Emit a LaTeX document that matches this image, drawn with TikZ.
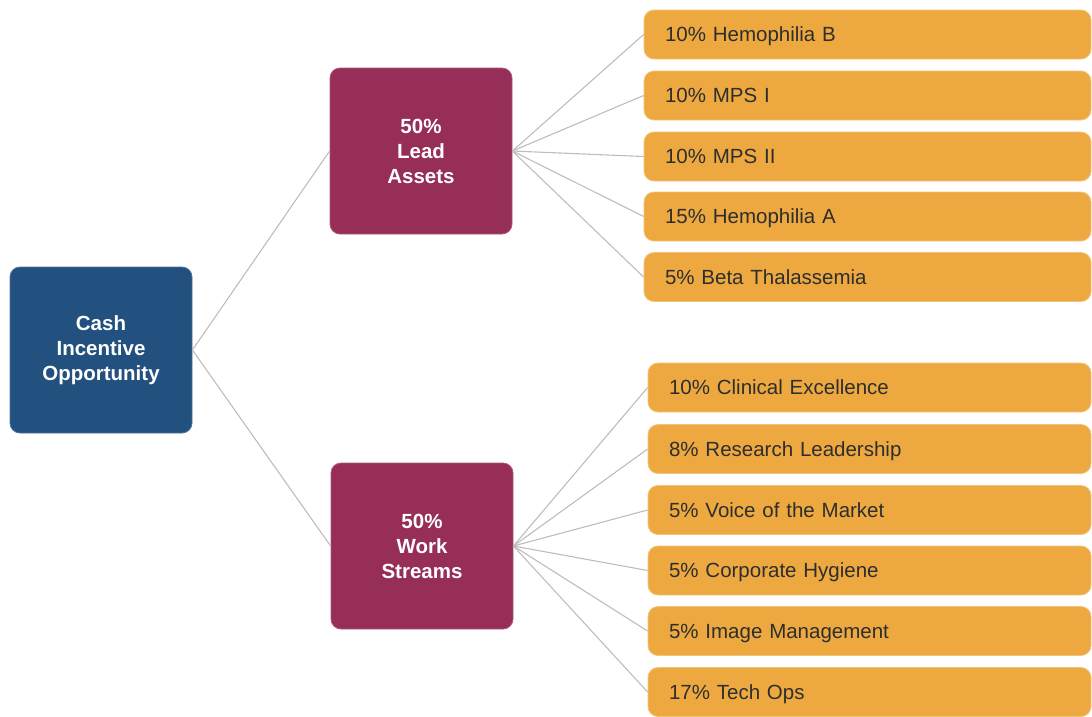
\documentclass[tikz,border=0pt]{standalone}
\usepackage{fontspec}
\setmainfont{Liberation Sans}
\definecolor{cashblue}{HTML}{22507F}
\definecolor{plum}{HTML}{962E58}
\definecolor{amber}{HTML}{EDA940}
\definecolor{linkgray}{HTML}{BDBDBD}
\definecolor{txt}{HTML}{2E2E2E}
\begin{document}
\begin{tikzpicture}[x=1pt,y=-1pt,
  bigbox/.style={rounded corners=10pt, minimum width=182pt, minimum height=166pt, inner sep=0pt,
    align=center, text=white, font=\fontsize{20.5}{25}\selectfont\bfseries, draw=#1!80!white, line width=0.8pt, fill=#1},
  leaf/.style={rounded corners=10pt, minimum height=49pt, inner ysep=0pt, inner xsep=21pt,
    text width=#1, text height=17pt, text depth=2.5pt, align=left, text=txt, font=\fontsize{20.5}{22}\selectfont,
    fill=amber, draw=amber!70!white, line width=0.8pt},
  link/.style={draw=linkgray, line width=1.1pt}
]
\useasboundingbox (0,0) rectangle (1092,716);

\node[bigbox=cashblue] (cash) at (101,350) {Cash\\Incentive\\Opportunity};
\node[bigbox=plum] (lead) at (421,151) {50\%\\Lead\\Assets};
\node[bigbox=plum] (work) at (422,546) {50\%\\Work\\Streams};

\node[leaf=405pt] (a1) at (867.5,34.5) {10\% Hemophilia B};
\node[leaf=405pt] (a2) at (867.5,95.5) {10\% MPS I};
\node[leaf=405pt] (a3) at (867.5,156.5) {10\% MPS II};
\node[leaf=405pt] (a4) at (867.5,216.5) {15\% Hemophilia A};
\node[leaf=405pt] (a5) at (867.5,277) {5\% Beta Thalassemia};

\node[leaf=401pt] (b1) at (869.5,387.5) {10\% Clinical Excellence};
\node[leaf=401pt] (b2) at (869.5,449) {8\% Research Leadership};
\node[leaf=401pt] (b3) at (869.5,510) {5\% Voice of the Market};
\node[leaf=401pt] (b4) at (869.5,570.5) {5\% Corporate Hygiene};
\node[leaf=401pt] (b5) at (869.5,631) {5\% Image Management};
\node[leaf=401pt] (b6) at (869.5,692) {17\% Tech Ops};

\draw[link] (cash.east) -- (lead.west);
\draw[link] (cash.east) -- (work.west);
\foreach \n in {a1,a2,a3,a4,a5}{\draw[link] (lead.east) -- (\n.west);}
\foreach \n in {b1,b2,b3,b4,b5,b6}{\draw[link] (work.east) -- (\n.west);}
\end{tikzpicture}
\end{document}
